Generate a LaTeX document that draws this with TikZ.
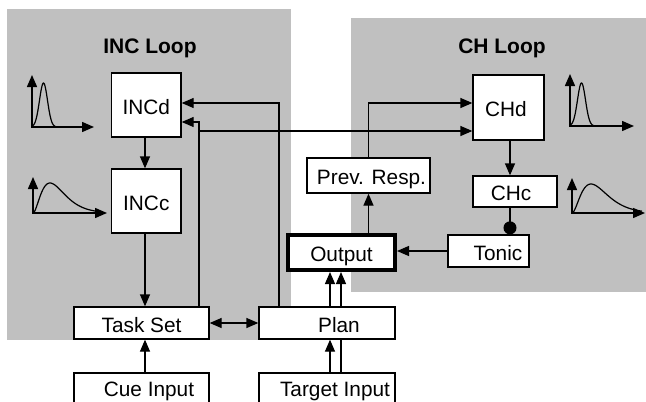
\documentclass[tikz,border=0pt]{standalone}
\usepackage{fontspec}
\setmainfont{Liberation Sans}
\usetikzlibrary{arrows.meta}
\definecolor{panel}{RGB}{192,192,192}
\begin{document}
\begin{tikzpicture}[x=1pt,y=-1pt,
  box/.style={draw, fill=white, line width=1.3pt, inner sep=0pt, text height=18.6pt, text depth=0pt, font=\fontsize{20.8}{24}\selectfont},
  title/.style={font=\fontsize{21}{24}\selectfont\bfseries},
  arr/.style={line width=1.3pt, -{Triangle[length=12pt,width=10pt]}},
  ln/.style={line width=1.3pt},
  axes/.style={line width=1.5pt, {Triangle[length=12pt,width=10pt]}-{Triangle[length=12pt,width=10pt]}},
  curve/.style={line width=1.2pt, smooth}]
\useasboundingbox (0,0) rectangle (646,402);
\clip (0,0) rectangle (646,402);
% panels
\fill[panel] (7,9) rectangle (291,340);
\fill[panel] (351,18) rectangle (646,292);
\node[title] (inctitle) at (150,48) {INC Loop};
\node[title] (chtitle) at (502,48) {CH Loop};
% boxes
\node[box, minimum width=69.5pt, minimum height=64pt] (INCd) at (146.3,105) {INCd};
\node[box, minimum width=69.5pt, minimum height=64pt] (INCc) at (146.3,201) {INCc};
\node[box, minimum width=135pt, minimum height=32pt] (task) at (141.5,323) {Task Set};
\node[box, text depth=6pt, minimum width=135pt, minimum height=34pt] (cue) at (141.5,390) {\hspace*{15pt}Cue Input};
\node[box, minimum width=136pt, minimum height=32pt] (plan) at (327,323) {\hspace*{24pt}Plan};
\node[box, text depth=6pt, minimum width=136pt, minimum height=34pt] (target) at (327,390) {\hspace*{16pt}Target Input};
\node[box, line width=4pt, minimum width=107pt, minimum height=35pt] (out) at (341.5,252.5) {Output};
\node[box, minimum width=123pt, minimum height=35pt] (prev) at (368.5,175.5) {\hspace*{6pt}Prev. Resp.};
\node[box, minimum width=71pt, minimum height=65pt] (CHd) at (508.5,107.5) {CHd\hspace*{5pt}};
\node[box, minimum width=84pt, minimum height=31pt] (CHc) at (515,191.5) {CHc\hspace*{8pt}};
\node[box, minimum width=81pt, minimum height=32pt] (tonic) at (488.5,251) {\hspace*{19pt}Tonic};
% helper coordinates
\coordinate (xi) at (145,0);
\coordinate (c1) at (199,122);
\coordinate (c2) at (199,131);
\coordinate (c3) at (279,103);
\coordinate (xc) at (510,0);
\coordinate (xa) at (330,0);
\coordinate (xb) at (341,0);
% connectors
\draw[arr] (xi |- INCd.south) -- (xi |- INCc.north);
\draw[arr] (xi |- INCc.south) -- (xi |- task.north);
\draw[arr] (xi |- cue.north) -- (xi |- task.south);
\draw[ln, {Triangle[length=12pt,width=10pt]}-{Triangle[length=12pt,width=10pt]}] (task.east) -- (plan.west);
\draw[arr] (task.north -| c1) |- (INCd.east |- c1);
\draw[arr] (c2) -- (CHd.west |- c2);
\draw[arr] (plan.north -| c3) |- (INCd.east |- c3);
\draw[arr] (prev.north) |- (CHd.west |- c3);
\draw[arr] (out.north -| prev.north) -- (prev.south);
\draw[arr] (tonic.west) -- (out.east |- tonic.west);
\draw[arr] (xc |- CHd.south) -- (xc |- CHc.north);
\draw[ln, -{Circle[length=13pt]}] (xc |- CHc.south) -- (xc |- tonic.north);
\draw[arr] (xa |- target.north) -- (xa |- plan.south);
\draw[ln] (xb |- target.north) -- (xb |- plan.south);
\draw[arr] (xa |- plan.north) -- (xa |- out.south);
\draw[arr] (xb |- plan.north) -- (xb |- out.south);
% distribution icons
\draw[axes] (32,75) -- (32,127) -- (94,127);
\draw[curve, domain=33:57, samples=60] plot (\x, {127-44*exp(-((\x-43.5)^2)/32)});
\draw[axes] (33,177) -- (33,213) -- (107,213);
\draw[curve, domain=33:103, samples=80] plot (\x, {213-30*((\x-33)/17)^2*exp(2*(1-(\x-33)/17))});
\draw[axes] (570,74) -- (570,126) -- (634,126);
\draw[curve, domain=571:595, samples=60] plot (\x, {126-43*exp(-((\x-581.5)^2)/32)});
\draw[axes] (572,178) -- (572,213) -- (645,213);
\draw[curve, domain=572:642, samples=80] plot (\x, {213-29*((\x-572)/19)^2*exp(2*(1-(\x-572)/19))});
\end{tikzpicture}
\end{document}
